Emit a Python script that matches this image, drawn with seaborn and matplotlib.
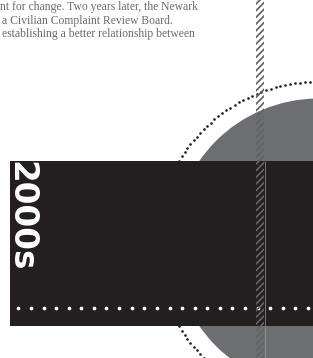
import numpy as np
import pandas as pd
import matplotlib
matplotlib.use('Agg')
import matplotlib.pyplot as plt
from matplotlib.patches import Rectangle, Circle
import seaborn as sns

# text content
text_lines = [
    'nt for change. Two years later, the Newark',
    'a Civilian Complaint Review Board.',
    'establishing a better relationship between',
]
text_x = [0, 2.5, 1.5]
text_y = [6.7, 20.7, 34.3]
decade_label = '2000s'

# canvas geometry (pixels)
W, H = 313, 358
band_box = (10, 161, 313, 326)          # left, top, right, bottom
circle_center = (318.5, 243.5)
disc_r = 145
ring_r = 162
bar_x = (256, 264)
dot_row_y = 308
dot_row_start = 18.3
dot_row_step = 12.6

BLACK = '#231f20'
GRAY = '#6d6e71'
TEXT_GRAY = '#6b6b6b'
HATCH = '#636363'

sns.set_theme(style='white')
plt.rcParams['hatch.linewidth'] = 1.25
plt.rcParams['hatch.color'] = HATCH

fig = plt.figure(figsize=(W / 100, H / 100), dpi=100)
ax = fig.add_axes([0, 0, 1, 1])
ax.set_xlim(0, W)
ax.set_ylim(H, 0)
ax.axis('off')

# paragraph fragment
for t, x, y in zip(text_lines, text_x, text_y):
    ax.text(x, y, t, family='Liberation Serif', fontsize=8.4, color=TEXT_GRAY,
            ha='left', va='center')

# dotted ring
ang = np.linspace(0, 2 * np.pi, 205, endpoint=False)
ring = pd.DataFrame({'x': circle_center[0] + ring_r * np.cos(ang),
                     'y': circle_center[1] + ring_r * np.sin(ang)})
sns.scatterplot(data=ring, x='x', y='y', s=3.6, color=BLACK, linewidth=0,
                ax=ax, zorder=1, legend=False)

# gray disc
ax.add_patch(Circle(circle_center, disc_r, facecolor=GRAY, edgecolor='none', zorder=2))

# black band
l, t, r, b = band_box
ax.add_patch(Rectangle((l, t), r - l, b - t, facecolor=BLACK, edgecolor='none', zorder=3))

# white dotted row
xs = np.arange(dot_row_start, W + 5, dot_row_step)
row = pd.DataFrame({'x': xs, 'y': np.full(len(xs), dot_row_y)})
sns.scatterplot(data=row, x='x', y='y', s=7, color='white', linewidth=0,
                ax=ax, zorder=4, legend=False)

# vertical hatched strip
ax.add_patch(Rectangle((bar_x[0], 0), bar_x[1] - bar_x[0], H, facecolor='none',
                       edgecolor=HATCH, linewidth=0, hatch='/////', zorder=5))
ax.plot([bar_x[1] + 0.5, bar_x[1] + 0.5], [t, H], color='#9a9a9a', lw=0.5, zorder=5)

# rotated decade label
ax.text(4.5, 271.5, decade_label, rotation=-90, family='DejaVu Sans', fontweight='bold',
        fontsize=23.5, color='white', ha='left', va='bottom', zorder=6)

ax.set_xlim(0, W)
ax.set_ylim(H, 0)
fig.savefig('out.png', dpi=100)
